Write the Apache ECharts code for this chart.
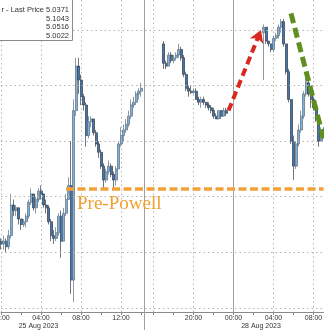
<!DOCTYPE html>
<html><head><meta charset="utf-8">
<script src="https://cdn.jsdelivr.net/npm/echarts@6/dist/echarts.min.js"></script>
<style>html,body{margin:0;padding:0;background:#fff;overflow:hidden}#c{width:324px;height:330px}</style>
</head><body><div id="c"></div>
<script>
// ---- time slots (15 min) ----
const fridaySession = {day: '25 Aug', startHour: 0, count: 57};   // 00:00 .. 14:00
const sundaySession = {day: '27 Aug', startHour: 15, count: 36};  // 15:00 .. 23:45
const mondaySession = {day: '28 Aug', startHour: 0, count: 37};   // 00:00 .. 09:00

// ---- tick labels ----
const tickLabels = ['25 Aug 00:00','25 Aug 04:00','25 Aug 08:00','25 Aug 12:00','27 Aug 20:00','28 Aug 00:00','28 Aug 04:00','28 Aug 08:00'];
const gridCats = ['25 Aug 00:00','25 Aug 04:00','25 Aug 08:00','25 Aug 12:00','27 Aug 16:00','27 Aug 20:00','28 Aug 00:00','28 Aug 04:00','28 Aug 08:00'];
const dateLabels = [{text: '25 Aug 2023', at: 15}, {text: '28 Aug 2023', at: 103.5}];
const breakCat = 57;
const dayCat = '28 Aug 00:00';

// ---- y levels ----
const gridLevels = [5.00, 5.02, 5.04, 5.06, 5.08, 5.10];
const yMin = 4.9985, yMax = 5.1108;
const preFedLevel = 5.043, preFedStart = 26;
const redArrow = [[91, 5.071], [103.5, 5.100]];
const greenTrend = [[116, 5.106], [129, 5.061]];
const legendTitle = 'r - Last Price';
const legendValues = ['5.0371', '5.1043', '5.0516', '5.0022'];

// ---- OHLC bars: [open, close, low, high] ----
const N = ['-','-','-','-'];
const fridayBars = [
 [5.024,5.023,5.021,5.025],[5.023,5.024,5.021,5.026],[5.024,5.022,5.020,5.025],[5.022,5.026,5.021,5.028],
 [5.026,5.037,5.025,5.041],[5.037,5.035,5.033,5.039],[5.035,5.036,5.033,5.037],[5.036,5.032,5.030,5.036],
 [5.032,5.030,5.028,5.032],[5.030,5.031,5.029,5.032],[5.031,5.033,5.029,5.034],[5.033,5.038,5.032,5.039],
 [5.038,5.041,5.037,5.043],[5.041,5.036,5.035,5.041],[5.036,5.039,5.034,5.040],[5.039,5.042,5.038,5.043],
 [5.042,5.041,5.039,5.044],[5.041,5.037,5.036,5.041],[5.037,5.036,5.034,5.039],[5.036,5.031,5.030,5.037],
 [5.031,5.026,5.024,5.032],[5.026,5.025,5.023,5.028],[5.025,5.027,5.024,5.029],[5.027,5.033,5.026,5.034],
 [5.033,5.024,5.018,5.035],[5.024,5.034,5.024,5.036],[5.034,5.039,5.033,5.041],[5.039,5.044,5.039,5.047],
 [5.044,5.010,5.005,5.060],[5.010,5.071,5.002,5.075],[5.071,5.087,5.069,5.090],[5.087,5.082,5.077,5.090],
 [5.082,5.076,5.073,5.084],[5.076,5.073,5.071,5.077],[5.073,5.062,5.058,5.074],[5.062,5.067,5.061,5.069],
 [5.067,5.068,5.065,5.069],[5.068,5.063,5.062,5.068],[5.063,5.059,5.058,5.064],[5.059,5.056,5.054,5.060],
 [5.056,5.051,5.050,5.057],[5.051,5.046,5.043,5.052],[5.046,5.049,5.045,5.050],[5.049,5.051,5.048,5.053],
 [5.051,5.048,5.047,5.052],[5.048,5.046,5.043,5.049],[5.046,5.050,5.044,5.051],[5.050,5.059,5.050,5.060],
 [5.059,5.062,5.058,5.065],[5.062,5.064,5.060,5.066],[5.064,5.066,5.063,5.068],[5.066,5.069,5.065,5.071],
 [5.069,5.073,5.068,5.075],[5.073,5.074,5.072,5.076],[5.074,5.077,5.073,5.078],[5.077,5.078,5.075,5.079],
 [5.078,5.079,5.076,5.081]
];
const sundayBars = [
 N,N,N,N,N,N,N,N,
 [5.095,5.088,5.086,5.096],[5.088,5.087,5.086,5.089],[5.087,5.091,5.087,5.092],[5.091,5.089,5.088,5.092],
 [5.089,5.090,5.088,5.091],[5.090,5.091,5.089,5.092],[5.091,5.093,5.090,5.095],[5.093,5.090,5.089,5.094],
 [5.090,5.084,5.083,5.091],[5.084,5.079,5.078,5.085],[5.079,5.078,5.076,5.080],[5.078,5.0775,5.077,5.080],
 [5.0775,5.078,5.077,5.079],[5.078,5.075,5.075,5.079],[5.075,5.074,5.073,5.076],[5.074,5.075,5.072,5.076],
 [5.075,5.074,5.073,5.076],[5.074,5.073,5.072,5.074],[5.073,5.072,5.071,5.074],[5.072,5.071,5.070,5.073],
 [5.071,5.069,5.068,5.072],[5.069,5.068,5.068,5.070],[5.068,5.071,5.068,5.071],[5.071,5.069,5.068,5.071],
 [5.069,5.071,5.069,5.072],[5.071,5.070,5.069,5.072],
 N,N
];
const mondayBars = [
 N,N,N,N,N,N,N,N,N,N,N,N,
 [5.099,5.101,5.082,5.102],[5.101,5.096,5.095,5.101],[5.096,5.095,5.094,5.096],[5.095,5.093,5.092,5.095],
 [5.093,5.097,5.092,5.098],[5.097,5.098,5.096,5.099],[5.098,5.101,5.097,5.102],[5.101,5.103,5.099,5.104],
 [5.103,5.095,5.094,5.104],[5.095,5.085,5.084,5.095],[5.085,5.075,5.074,5.086],[5.075,5.060,5.059,5.075],
 [5.060,5.051,5.046,5.062],[5.051,5.059,5.050,5.060],[5.059,5.064,5.058,5.066],[5.064,5.069,5.063,5.071],
 [5.069,5.077,5.068,5.078],[5.077,5.081,5.076,5.083],[5.081,5.077,5.076,5.082],[5.077,5.075,5.072,5.078],
 [5.075,5.072,5.071,5.076],[5.072,5.068,5.067,5.073],[5.068,5.060,5.058,5.069],[5.060,5.064,5.060,5.065],
 [5.064,5.063,5.062,5.065]
];

function slots(s) {
  const out = [];
  for (let k = 0; k < s.count; k++) {
    const mins = s.startHour * 60 + k * 15;
    const h = String(Math.floor(mins / 60)).padStart(2, '0');
    const m = String(mins % 60).padStart(2, '0');
    out.push(s.day + ' ' + h + ':' + m);
  }
  return out;
}
const categories = [...slots(fridaySession), ...slots(sundaySession), ...slots(mondaySession)];
const bars = [...fridayBars, ...sundayBars, ...mondayBars];

const dotted = {color: '#b4b4b4', width: 1, type: [1.5, 3]};
const FONT = 'Liberation Sans';

const chart = echarts.init(document.getElementById('c'), null, {renderer: 'canvas'});
chart.setOption({
  animation: false,
  backgroundColor: '#fff',
  grid: {left: 1, right: 0.5, top: 0, bottom: 18, containLabel: false, outerBoundsMode: 'none'},
  xAxis: {
    type: 'category', data: categories, boundaryGap: false,
    axisLine: {lineStyle: {color: '#8a8a8a', width: 1}},
    axisTick: {length: 3, lineStyle: {color: '#8a8a8a'},
      interval: (i, v) => { const hm = v.slice(-5); return hm.endsWith(':00') && (+hm.slice(0, 2)) % 2 === 0; }},
    axisLabel: {margin: 3, fontSize: 7, fontFamily: FONT, color: '#333', align: 'center',
      hideOverlap: false,
      interval: (i, v) => tickLabels.includes(v), formatter: v => v.slice(-5)},
    splitLine: {show: true, lineStyle: dotted, interval: (i, v) => gridCats.includes(v)}
  },
  yAxis: {type: 'value', min: yMin, max: yMax, show: false, splitLine: {show: false}},
  series: [
    {type: 'line', data: [], z: 1, silent: true,
     markLine: {silent: true, symbol: 'none', label: {show: false}, lineStyle: dotted,
       data: gridLevels.map(v => ({yAxis: v}))}},
    {type: 'line', data: [], z: 1, silent: true,
     markLine: {silent: true, symbol: 'none', label: {show: false},
       lineStyle: {color: '#a0a0a0', width: 1, type: 'solid'},
       data: [{xAxis: dayCat}]}},
    {type: 'candlestick', data: bars, z: 3, barWidth: 2.5,
     itemStyle: {color: '#7fb0da', color0: '#3f78b0', borderColor: '#5a6e80', borderColor0: '#333a44', borderWidth: 0.7}},
    {type: 'line', data: [], z: 5, silent: true,
     markLine: {silent: true, symbol: 'none', label: {show: false}, animation: false,
       data: [
         [{coord: [preFedStart, preFedLevel], lineStyle: {color: '#f2a13a', width: 3.5, type: [8, 3.5]}},
          {coord: [categories.length - 1, preFedLevel]}],
         [{coord: greenTrend[0], lineStyle: {color: '#5f8f1f', width: 5, type: [10, 5]}},
          {coord: greenTrend[1]}],
         [{coord: redArrow[0], lineStyle: {color: '#d8281f', width: 4, type: [8, 4.5]}, symbol: 'none'},
          {coord: redArrow[1], symbol: 'arrow', symbolSize: [11, 12]}]
       ]}}
  ]
});

const px = (c, v) => chart.convertToPixel({xAxisIndex: 0, yAxisIndex: 0}, [c, v]);
const bx = px(breakCat, yMin)[0];
const preXY = px(preFedStart, preFedLevel);
const graphics = [
  {type: 'line', z: 2, shape: {x1: Math.round(bx) + 0.5, y1: 0, x2: Math.round(bx) + 0.5, y2: 330}, style: {stroke: '#a0a0a0', lineWidth: 1}},
  {type: 'text', z: 10, x: preXY[0] + 11, y: preXY[1] + 16,
   style: {text: 'Pre-Powell', fill: '#f0a030', font: '19px "Liberation Serif"', align: 'left', verticalAlign: 'middle'}},
  {type: 'rect', z: 20, shape: {x: -5.5, y: -5.5, width: 78, height: 46}, style: {fill: '#fff', stroke: '#8a8a8a', lineWidth: 1}},
  {type: 'text', z: 21, x: 1.5, y: 10, style: {text: legendTitle, fill: '#333', font: '7.5px "Liberation Sans"', align: 'left', verticalAlign: 'middle'}},
];
legendValues.forEach((t, k) => graphics.push({type: 'text', z: 21, x: 69, y: [10, 18.5, 27, 35.5][k],
  style: {text: t, fill: '#333', font: '7.5px "Liberation Sans"', align: 'right', verticalAlign: 'middle'}}));
dateLabels.forEach(d => graphics.push({type: 'text', z: 10, x: px(d.at, yMin)[0], y: 326.5,
  style: {text: d.text, fill: '#333', font: '7px "Liberation Sans"', align: 'center', verticalAlign: 'middle'}}));
chart.setOption({graphic: graphics});
</script></body></html>
